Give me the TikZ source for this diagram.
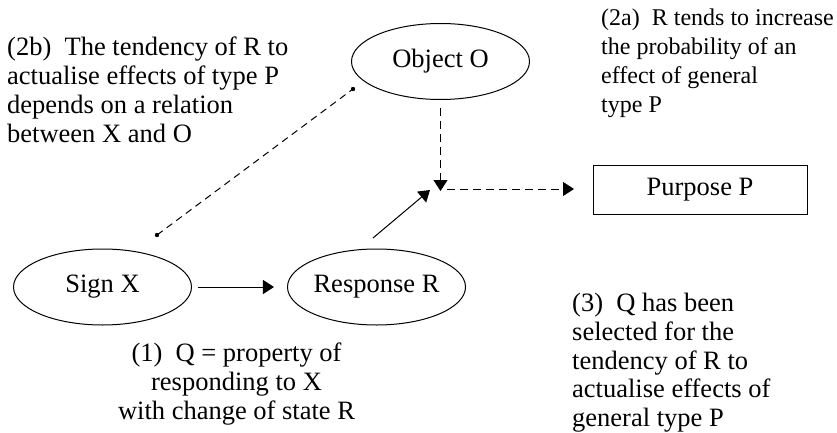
\documentclass[tikz,border=0pt]{standalone}
\usepackage{fontspec}
\setmainfont{Liberation Serif}
\usetikzlibrary{arrows.meta,shapes.geometric}
\begin{document}
\begin{tikzpicture}[x=1pt,y=-1pt,
  txt/.style={inner sep=0pt, font=\fontsize{26.5}{28.8}\selectfont},
  smalltxt/.style={inner sep=0pt, font=\fontsize{24}{28.8}\selectfont},
  oval/.style={ellipse, draw, line width=1pt, minimum width=178pt, minimum height=76pt, inner sep=0pt, font=\fontsize{26.5}{28.8}\selectfont},
  box/.style={rectangle, draw, line width=1pt, minimum width=214pt, minimum height=49pt, inner sep=0pt, font=\fontsize{26.5}{28.8}\selectfont},
  arr/.style={line width=1pt, -{Triangle[length=11pt,width=14pt]}},
  dsh/.style={dash pattern=on 8pt off 5pt}
]
\useasboundingbox (0,0) rectangle (837,433);

\node[oval] (oo) at (440.5,61.5) {Object O};
\node[oval] (sx) at (102.5,287) {Sign X};
\node[oval] (rr) at (376.5,287) {Response R};
\node[box] (pp) at (700,189.5) {Purpose P};

\coordinate (vtop) at (440.5,108);
\coordinate (vtip) at (440.5,191);
\coordinate (hst) at (447,189);
\coordinate (htip) at (574,189);
\coordinate (dst) at (373,238);
\coordinate (dtip) at (430,190);
\coordinate (p0) at (157,235);
\coordinate (p1) at (353,89);

\draw[arr] ([xshift=6pt]sx.east) -- ([xshift=-13pt]rr.west);
\draw[arr, dsh] (vtop) -- (vtip);
\draw[arr, dsh] (hst) -- (htip);
\draw[arr] (dst) -- (dtip);
\draw[line width=1pt, dash pattern=on 7pt off 5pt] (p0) -- (p1);
\fill (p0) circle (2.2pt);
\fill (p1) circle (2.2pt);

\node[txt, anchor=north west, align=left] (t2b) at (7,37)
  {(2b)\ \ The tendency of R to\\actualise effects of type P\\depends on a relation\\between X and O};
\node[smalltxt, anchor=north west, align=left] (t2a) at (601,9)
  {(2a)\ \ R tends to increase\\the probability of an\\effect of general\\type P};
\node[txt, anchor=north, align=center] (t1) at (236.5,343)
  {(1)\ \ Q = property of\\responding to X\\with change of state R};
\node[txt, anchor=north west, align=left] (t3) at (572,293)
  {(3)\ \ Q has been\\selected for the\\tendency of R to\\actualise effects of\\general type P};
\end{tikzpicture}
\end{document}
